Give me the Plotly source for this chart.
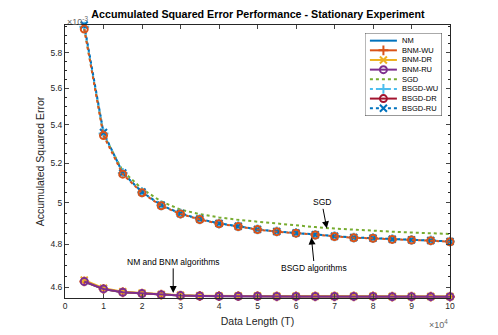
import numpy as np
import plotly.graph_objects as go

# x in units of 1e4 samples, y in units of 1e-3
data_length = [0.5, 1, 1.5, 2, 2.5, 3, 3.5, 4, 4.5, 5,
               5.5, 6, 6.5, 7, 7.5, 8, 8.5, 9, 9.5, 10]

nm_err      = [4.627, 4.593, 4.578, 4.572, 4.567, 4.563, 4.561, 4.560, 4.560, 4.560,
               4.559, 4.559, 4.559, 4.559, 4.559, 4.559, 4.558, 4.558, 4.558, 4.558]
bnm_wu_err  = [4.627, 4.593, 4.578, 4.572, 4.567, 4.563, 4.561, 4.560, 4.560, 4.560,
               4.559, 4.559, 4.559, 4.559, 4.559, 4.559, 4.558, 4.558, 4.558, 4.558]
bnm_dr_err  = [4.633, 4.596, 4.580, 4.574, 4.568, 4.564, 4.562, 4.561, 4.561, 4.561,
               4.560, 4.560, 4.560, 4.560, 4.560, 4.560, 4.559, 4.559, 4.559, 4.559]
bnm_ru_err  = [4.627, 4.593, 4.578, 4.572, 4.567, 4.563, 4.561, 4.560, 4.560, 4.560,
               4.559, 4.559, 4.559, 4.559, 4.559, 4.559, 4.558, 4.558, 4.558, 4.558]
sgd_err     = [5.940, 5.350, 5.160, 5.070, 5.007, 4.967, 4.945, 4.929, 4.917, 4.908,
               4.898, 4.890, 4.882, 4.875, 4.869, 4.864, 4.860, 4.856, 4.852, 4.849]
bsgd_wu_err = [5.950, 5.355, 5.150, 5.053, 4.988, 4.947, 4.920, 4.899, 4.886, 4.871,
               4.861, 4.854, 4.845, 4.838, 4.832, 4.829, 4.824, 4.821, 4.818, 4.813]
bsgd_dr_err = [5.936, 5.344, 5.144, 5.050, 4.986, 4.946, 4.919, 4.898, 4.885, 4.870,
               4.860, 4.853, 4.844, 4.837, 4.831, 4.828, 4.823, 4.820, 4.817, 4.812]
bsgd_ru_err = [5.960, 5.360, 5.150, 5.054, 4.989, 4.948, 4.921, 4.900, 4.886, 4.871,
               4.861, 4.854, 4.845, 4.838, 4.832, 4.829, 4.824, 4.821, 4.818, 4.813]

y_ticks = [4.6, 4.8, 5, 5.2, 5.4, 5.6, 5.8]
y_minor = [4.55, 4.65, 4.7, 4.75, 4.85, 4.9, 4.95, 5.05, 5.1, 5.15,
           5.25, 5.3, 5.35, 5.45, 5.5, 5.55, 5.65, 5.7, 5.75, 5.85, 5.9, 5.95]
y_lim = [4.552, 5.96]

BLUE, ORANGE, YELLOW = "#0072BD", "#D95319", "#EDB120"
PURPLE, GREEN, CYAN, DRED = "#7E2F8E", "#77AC30", "#4DBEEE", "#A2142F"
FONT = "Liberation Sans, Arial, sans-serif"
AX = "#262626"

# the page body has an 8px margin, so the figure is shrunk to fit the window
FIG_W, FIG_H = 490, 327

# legend entries: (name, colour, dash, marker symbol)
legend_items = [
    ("NM", BLUE, "solid", None),
    ("BNM-WU", ORANGE, "solid", "cross-thin-open"),
    ("BNM-DR", YELLOW, "solid", "x-thin-open"),
    ("BNM-RU", PURPLE, "solid", "circle-open"),
    ("SGD", GREEN, "dot", None),
    ("BSGD-WU", CYAN, "dot", "cross-thin-open"),
    ("BSGD-DR", DRED, "solid", "circle-open"),
    ("BSGD-RU", BLUE, "dot", "x-thin-open"),
]


def style(color, dash, symbol):
    return dict(
        mode="lines+markers" if symbol else "lines",
        line=dict(color=color, width=2, dash=dash),
        marker=dict(symbol=symbol or "circle", size=7, color=color,
                    line=dict(color=color, width=2)),
    )


def series(y, color, dash="solid", symbol=None):
    return go.Scatter(x=data_length, y=y, showlegend=False, cliponaxis=False,
                      **style(color, dash, symbol))


fig = go.Figure()

# plotted curves (draw order chosen so the visible ones end on top)
fig.add_trace(series(nm_err, BLUE))
fig.add_trace(series(bnm_wu_err, ORANGE, symbol="cross-thin-open"))
fig.add_trace(series(bnm_dr_err, YELLOW, symbol="x-thin-open"))
fig.add_trace(series(sgd_err, GREEN, dash="dot"))
fig.add_trace(series(bsgd_wu_err, CYAN, dash="dot", symbol="cross-thin-open"))
fig.add_trace(series(bsgd_ru_err, BLUE, dash="dot", symbol="x-thin-open"))
fig.add_trace(series(bsgd_dr_err, ORANGE, dash="dot", symbol="circle-open"))
fig.add_trace(series(bnm_ru_err, PURPLE, symbol="circle-open"))

# MATLAB-style compact legend drawn on an overlay axis (units ~ pixels)
LEG_W, LEG_H, ROW0, ROW_STEP = 77, 83.3, 7.7, 9.7
legend_notes = []
for i, (name, color, dash, symbol) in enumerate(legend_items):
    yy = ROW0 + i * ROW_STEP
    s = style(color, dash, symbol)
    fig.add_trace(go.Scatter(x=[5, 32], y=[yy, yy], mode="lines", line=s["line"],
                             xaxis="x2", yaxis="y2", showlegend=False,
                             hoverinfo="skip", cliponaxis=False))
    if symbol:
        fig.add_trace(go.Scatter(x=[18.5], y=[yy], mode="markers", marker=s["marker"],
                                 xaxis="x2", yaxis="y2", showlegend=False,
                                 hoverinfo="skip", cliponaxis=False))
    legend_notes.append(dict(xref="x2", yref="y2", x=35, y=yy, text=name,
                             xanchor="left", yanchor="middle", showarrow=False,
                             font=dict(size=7.5, color="black")))

arrow = dict(showarrow=True, arrowhead=2, arrowsize=1.4, arrowwidth=1,
             arrowcolor="black", font=dict(size=8.5, color="black"))
annotations = [
    dict(x=6.8, y=np.log10(4.876), text="SGD", ax=-5, ay=-26, **arrow),
    dict(x=6.4, y=np.log10(4.832), text="BSGD algorithms", ax=3, ay=30, **arrow),
    dict(x=2.81, y=np.log10(4.575), text="NM and BNM algorithms", ax=0, ay=-31, **arrow),
    dict(xref="paper", yref="paper", x=0, y=1, xanchor="left", yanchor="bottom",
         yshift=-4, text="×10<sup>-3</sup>", showarrow=False,
         font=dict(size=9, color="#666")),
    dict(xref="paper", yref="paper", x=1, y=0, xanchor="right", yanchor="top",
         yshift=-18, text="×10<sup>4</sup>", showarrow=False,
         font=dict(size=9, color="#666")),
] + legend_notes

fig.update_layout(
    width=FIG_W, height=FIG_H,
    margin=dict(l=57, r=48, t=17, b=37),
    paper_bgcolor="white", plot_bgcolor="white",
    font=dict(family=FONT, size=9, color=AX),
    showlegend=False,
    title=dict(text="<b>Accumulated Squared Error Performance - Stationary Experiment</b>",
               x=0.51, xanchor="center", yref="container", y=1 - 6 / FIG_H,
               yanchor="middle", font=dict(size=10.7, color="black")),
    annotations=annotations,
    shapes=[dict(type="rect", xref="x2", yref="y2", x0=0, x1=LEG_W, y0=0, y1=LEG_H,
                 line=dict(color=AX, width=0.8), fillcolor="white", layer="below")],
    xaxis=dict(range=[0, 10], dtick=1, ticks="inside", ticklen=4, automargin=False,
               showline=True, linecolor=AX, linewidth=1, mirror="allticks",
               showgrid=False, zeroline=False, tickfont=dict(size=8.5),
               title=dict(text="Data Length (T)", font=dict(size=10.5), standoff=7)),
    yaxis=dict(type="log", range=list(np.log10(y_lim)), automargin=False,
               tickmode="array", tickvals=y_ticks,
               ticktext=[f"{v:g}" for v in y_ticks],
               ticks="inside", ticklen=4,
               minor=dict(tickmode="array", tickvals=y_minor, ticks="inside",
                          ticklen=2, tickcolor=AX, showgrid=False),
               showline=True, linecolor=AX, linewidth=1, mirror="allticks",
               showgrid=False, zeroline=False, tickfont=dict(size=8.5),
               title=dict(text="Accumulated Squared Error", font=dict(size=10.5),
                          standoff=3)),
    xaxis2=dict(domain=[0.779, 0.979], range=[0, LEG_W], anchor="y2",
                visible=False, fixedrange=True),
    yaxis2=dict(domain=[0.667, 0.9707], range=[LEG_H, 0], anchor="x2",
                visible=False, fixedrange=True),
)

fig.write_html("out.html")
